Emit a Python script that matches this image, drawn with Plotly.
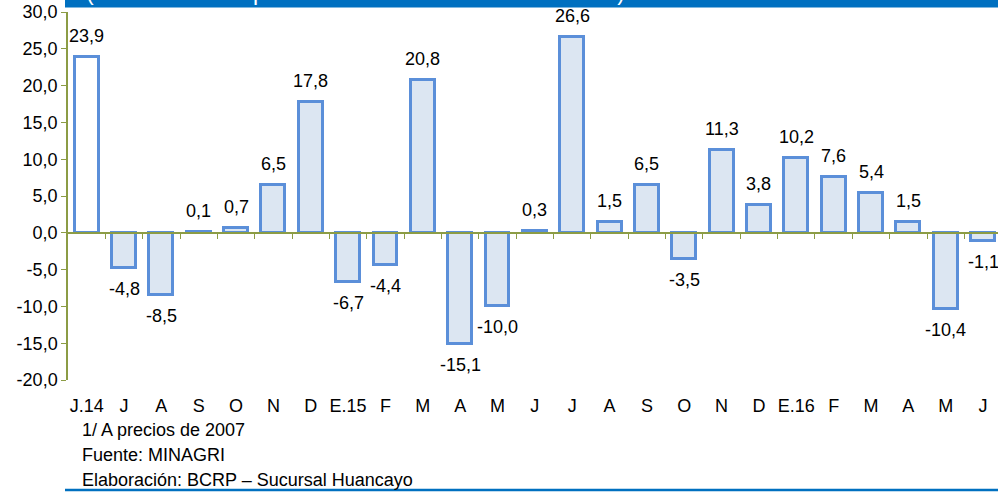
import plotly.graph_objects as go

categories = ["J.14", "J", "A", "S", "O", "N", "D", "E.15", "F", "M", "A", "M", "J",
              "J", "A", "S", "O", "N", "D", "E.16", "F", "M", "A", "M", "J"]
values = [23.9, -4.8, -8.5, 0.1, 0.7, 6.5, 17.8, -6.7, -4.4, 20.8, -15.1, -10.0, 0.3,
          26.6, 1.5, 6.5, -3.5, 11.3, 3.8, 10.2, 7.6, 5.4, 1.5, -10.4, -1.1]
y_ticks = [-20, -15, -10, -5, 0, 5, 10, 15, 20, 25, 30]
footnotes = ["1/ A precios de 2007", "Fuente: MINAGRI", "Elaboración: BCRP – Sucursal Huancayo"]
band_title = "(Variación % respecto a similar mes del año anterior)"

def fmt(v):
    return f"{v:.1f}".replace(".", ",")

W, H = 998, 492
ML, MR, MT, MB = 68, 0, 12, 112
PW, PH = W - ML - MR, H - MT - MB

def py(pix):
    return (H - MB - pix) / PH

def px(pix):
    return (pix - ML) / PW

BAR_LINE = "#5B8FD9"
BAR_FILL = "#DCE6F2"
AXIS_COL = "#8C9C45"
BLUE = "#0070C0"
FONT = "Liberation Sans, Arial, sans-serif"
FS = 18

x = list(range(len(values)))
fills = ["#FFFFFF"] + [BAR_FILL] * (len(values) - 1)

fig = go.Figure()
fig.add_trace(go.Bar(
    x=x, y=values, width=0.64,
    marker=dict(color=fills, line=dict(color=BAR_LINE, width=3)),
    hoverinfo="skip", showlegend=False,
))
# invisible trace to carry boundary tick axis
fig.add_trace(go.Scatter(x=[-0.5, 24.5], y=[0, 0], xaxis="x2", mode="lines",
                         line=dict(color="rgba(0,0,0,0)"), hoverinfo="skip", showlegend=False))

rng = [-0.5, 24.4]
fig.update_layout(
    width=W, height=H,
    margin=dict(l=ML, r=MR, t=MT, b=MB),
    paper_bgcolor="white", plot_bgcolor="white",
    font=dict(family=FONT, size=FS, color="#000000"),
    bargap=0,
    xaxis=dict(
        range=rng, tickmode="array", tickvals=x, ticktext=categories,
        showgrid=False, zeroline=False, showline=False,
        ticks="outside", ticklen=9, tickcolor="rgba(0,0,0,0)",
        tickfont=dict(family=FONT, size=FS, color="#000"),
    ),
    xaxis2=dict(
        overlaying="x", anchor="free", position=py(233), range=rng,
        tickmode="array", tickvals=[i + 0.5 for i in range(len(values) - 1)],
        showticklabels=False, ticks="outside", ticklen=5, tickwidth=1, tickcolor=AXIS_COL,
        showline=True, linecolor=AXIS_COL, linewidth=1.5,
        showgrid=False, zeroline=False,
    ),
    yaxis=dict(
        range=[-20, 30], tickmode="array", tickvals=y_ticks,
        ticktext=[fmt(v) for v in y_ticks],
        showgrid=False, zeroline=False, showline=True, linecolor=AXIS_COL, linewidth=1.5,
        ticks="outside", ticklen=5, tickcolor=AXIS_COL, tickwidth=1,
        tickfont=dict(family=FONT, size=FS, color="#000"),
    ),
)

# value labels
for i, v in enumerate(values):
    fig.add_annotation(
        x=i, y=v, text=fmt(v), showarrow=False,
        yanchor="bottom" if v >= 0 else "top",
        yshift=9 if v >= 0 else -9,
        font=dict(family=FONT, size=FS, color="#000"),
    )

# top blue band
fig.add_shape(type="rect", xref="paper", yref="paper",
              x0=px(65), x1=1.0, y0=py(7.5), y1=py(-5),
              fillcolor=BLUE, line=dict(width=0), layer="above")
fig.add_annotation(xref="paper", yref="paper", x=px(84), y=py(7),
                   xanchor="left", yanchor="bottom", showarrow=False,
                   text=band_title, font=dict(family=FONT, size=23, color="white"))

# bottom blue line
fig.add_shape(type="line", xref="paper", yref="paper",
              x0=px(65), x1=1.0, y0=py(490), y1=py(490),
              line=dict(color=BLUE, width=2.5), layer="above")

# footnotes
for txt, ypix in zip(footnotes, [430, 455, 480]):
    fig.add_annotation(xref="paper", yref="paper", x=px(80), y=py(ypix),
                       xanchor="left", yanchor="middle", showarrow=False,
                       text=txt, font=dict(family="Liberation Sans Narrow, Arial Narrow, " + FONT,
                                           size=18, color="#000"))

fig.write_html("out.html", config={"displayModeBar": False},
               post_script="document.body.style.margin='0';document.body.style.overflow='hidden';")
